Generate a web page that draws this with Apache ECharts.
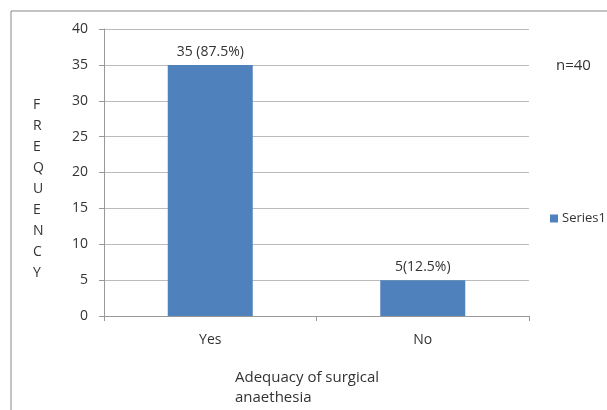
<!DOCTYPE html>
<html>
<head>
<meta charset="utf-8">
<script src="https://cdn.jsdelivr.net/npm/echarts@6/dist/echarts.min.js"></script>
<style>html,body{margin:0;padding:0;background:#fff;}#c{width:607px;height:410px;}</style>
</head>
<body>
<div id="c"></div>
<script>
var categories = ['Yes', 'No'];
var values = [35, 5];
var barLabels = ['35 (87.5%)', '5(12.5%)'];
var seriesName = 'Series1';
var yTitle = 'FREQUENCY';
var xTitle = 'Adequacy of surgical\nanaethesia';
var note = 'n=40';

var FONT = '"Open Sans", "Noto Sans", sans-serif';
var chart = echarts.init(document.getElementById('c'), null, {renderer: 'canvas'});
chart.setOption({
  animation: false,
  backgroundColor: '#fff',
  textStyle: {fontFamily: FONT},
  grid: {left: 104, right: 78, top: 29, bottom: 94, containLabel: false},
  legend: {
    data: [seriesName], left: 545, top: 207, icon: 'rect', itemWidth: 8, itemHeight: 8, itemGap: 4,
    textStyle: {fontFamily: FONT, fontSize: 13, color: '#333', padding: [0, 0, 0, -1]}
  },
  xAxis: {
    type: 'category', data: categories,
    axisLine: {lineStyle: {color: '#999'}},
    axisTick: {show: true, length: 5, lineStyle: {color: '#999'}},
    axisLabel: {fontSize: 14, color: '#333', margin: 17, fontFamily: FONT}
  },
  yAxis: {
    type: 'value', min: 0, max: 40, interval: 5,
    axisLine: {show: true, lineStyle: {color: '#999'}},
    axisTick: {show: true, length: 5, lineStyle: {color: '#999'}},
    axisLabel: {fontSize: 14, color: '#333', margin: 16, fontFamily: FONT},
    splitLine: {lineStyle: {color: '#bbb'}}
  },
  graphic: [
    {type: 'rect', shape: {x: 11, y: 11, width: 700, height: 500}, style: {fill: 'none', stroke: '#888', lineWidth: 1}, silent: true, z: -1},
    {type: 'text', left: 33, top: 95, style: {text: yTitle.split('').join('\n'), lineHeight: 20.9, fill: '#333', font: '14px ' + FONT}},
    {type: 'text', left: 235, top: 368, style: {text: xTitle, lineHeight: 19.5, fill: '#333', font: '15px ' + FONT}},
    {type: 'text', left: 556, top: 58, style: {text: note, fill: '#333', font: '15px ' + FONT}}
  ],
  series: [{
    name: seriesName, type: 'bar', data: values, barCategoryGap: '60%',
    itemStyle: {color: '#4F81BD'},
    label: {show: true, position: 'top', distance: 6, fontSize: 14, color: '#333', fontFamily: FONT,
      formatter: function (p) { return barLabels[p.dataIndex]; }}
  }]
});
</script>
</body>
</html>
